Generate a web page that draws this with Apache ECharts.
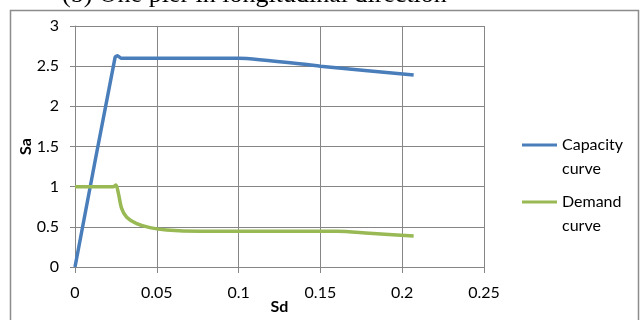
<!DOCTYPE html>
<html>
<head>
<meta charset="utf-8">
<script src="https://cdn.jsdelivr.net/npm/echarts@6/dist/echarts.min.js"></script>
<style>
  html, body { margin: 0; padding: 0; background: #fff; }
  #chart { width: 642px; height: 320px; }
</style>
</head>
<body>
<div id="chart"></div>
<script>
// Capacity spectrum: Sd (spectral displacement) vs Sa (spectral acceleration)
const capacitySd = [0, 0.0245, 0.026, 0.028, 0.1, 0.15, 0.207];
const capacitySa = [0, 2.61, 2.63, 2.6, 2.6, 2.5, 2.39];

const demandSd = [0, 0.01, 0.02, 0.0235, 0.025, 0.0265, 0.0285, 0.0316, 0.0377, 0.0458, 0.056, 0.0764, 0.1, 0.16, 0.18, 0.207];
const demandSa = [1.0, 1.0, 1.0, 1.0, 1.02, 0.92, 0.73, 0.62, 0.54, 0.49, 0.46, 0.445, 0.445, 0.445, 0.42, 0.385];

const xTicks = [0, 0.05, 0.1, 0.15, 0.2, 0.25];
const yTicks = [0, 0.5, 1, 1.5, 2, 2.5, 3];

const seriesNames = ['Capacity\ncurve', 'Demand\ncurve'];
const seriesColors = ['#4a7ebb', '#98b954'];

const pairs = (xs, ys) => xs.map((x, i) => [x, ys[i]]);

const font = 'Lato';
const gridColor = '#868686';
const chart = echarts.init(document.getElementById('chart'));
chart.setOption({
  animation: false,
  title: {
    text: '(b) One pier in longitudinal direction',
    left: 57,
    top: -23,
    textStyle: { fontFamily: 'Liberation Serif', fontSize: 26, fontWeight: 'normal', color: '#000' }
  },
  graphic: [{
    type: 'rect',
    shape: { x: 10.5, y: 10.5, width: 628, height: 330 },
    style: { fill: 'none', stroke: '#8c8c8c', lineWidth: 1.5 },
    silent: true,
    z: -1
  }],
  grid: { left: 75, right: 158, top: 26, bottom: 53, containLabel: false, outerBoundsMode: 'none' },
  legend: {
    orient: 'vertical',
    left: 517,
    top: 104,
    itemWidth: 35,
    itemHeight: 10,
    itemGap: -15,
    icon: 'path://M0,3.5 L35,3.5 L35,6.5 L0,6.5 Z',
    // leading blank line keeps the first text line level with the line sample
    formatter: name => '\n' + name,
    textStyle: { fontFamily: font, fontSize: 16, color: '#000', lineHeight: 24 },
    itemStyle: { borderWidth: 0 },
    data: seriesNames.map((n, i) => ({ name: n, itemStyle: { color: seriesColors[i] } }))
  },
  xAxis: {
    type: 'value',
    min: xTicks[0],
    max: xTicks[xTicks.length - 1],
    interval: 0.05,
    name: 'Sd',
    nameLocation: 'middle',
    nameGap: 32,
    nameMoveOverlap: false,
    nameTextStyle: { fontFamily: font, fontSize: 16, fontWeight: 'bold', color: '#000' },
    axisLine: { lineStyle: { color: gridColor } },
    axisTick: { show: true, length: 6, lineStyle: { color: gridColor } },
    splitLine: { show: true, lineStyle: { color: gridColor } },
    axisLabel: { fontFamily: font, fontSize: 16, color: '#000', margin: 18 }
  },
  yAxis: {
    type: 'value',
    min: yTicks[0],
    max: yTicks[yTicks.length - 1],
    interval: 0.5,
    name: 'Sa',
    nameLocation: 'middle',
    nameGap: 41,
    nameMoveOverlap: false,
    nameTextStyle: { fontFamily: font, fontSize: 16, fontWeight: 'bold', color: '#000' },
    axisLine: { show: true, lineStyle: { color: gridColor } },
    axisTick: { show: true, length: 5, lineStyle: { color: gridColor } },
    splitLine: { show: true, lineStyle: { color: gridColor } },
    axisLabel: { fontFamily: font, fontSize: 16, color: '#000', margin: 16 }
  },
  series: [
    {
      name: seriesNames[0],
      type: 'line',
      data: pairs(capacitySd, capacitySa),
      showSymbol: false,
      smooth: 0.2,
      lineStyle: { color: seriesColors[0], width: 3.5 },
      itemStyle: { color: seriesColors[0] }
    },
    {
      name: seriesNames[1],
      type: 'line',
      data: pairs(demandSd, demandSa),
      showSymbol: false,
      smooth: 0.3,
      lineStyle: { color: seriesColors[1], width: 3.5 },
      itemStyle: { color: seriesColors[1] }
    }
  ]
});
</script>
</body>
</html>
